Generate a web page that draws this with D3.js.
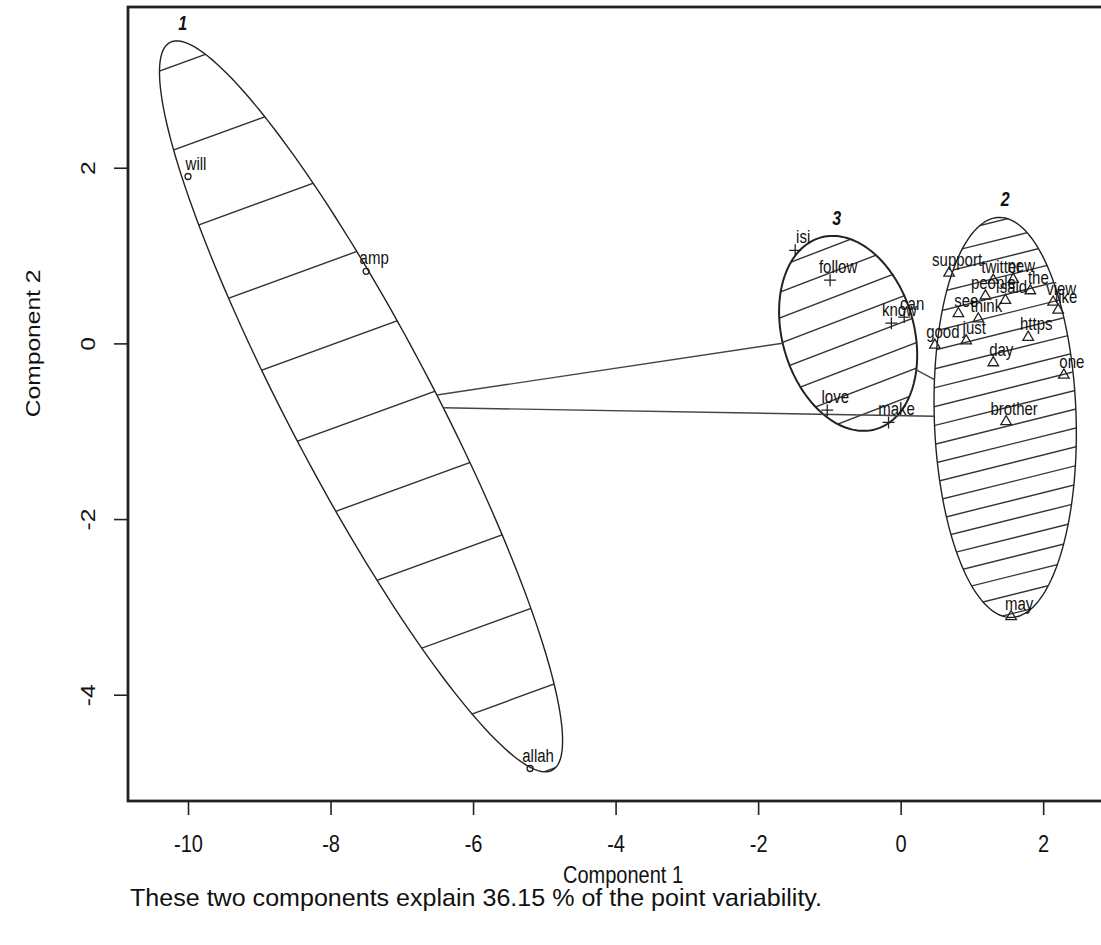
<!DOCTYPE html>
<html>
<head>
<meta charset="utf-8">
<script src="https://cdn.jsdelivr.net/npm/d3@7"></script>
<style>
  body { margin: 0; background: #fff; }
  text { font-family: "Liberation Sans", Arial, sans-serif; fill: #111; }
</style>
</head>
<body>
<div id="chart"></div>
<script>
/* clusplot of word scores - 3 clusters */

const width = 1101,
    height = 945,
    margin = ({ top: 7, right: -17, bottom: 144, left: 128 });

// word scores on the two components, and the cluster each word is in
const words = ["will", "amp", "allah",
  "support", "twitter", "new", "the", "people", "said", "view", "like", "see", "think",
  "good", "just", "https", "day", "one", "brother", "may",
  "isi", "follow", "know", "can", "love", "make"];
const comp1 = [-10.0, -7.50, -5.20,
  0.68, 1.30, 1.58, 1.82, 1.19, 1.47, 2.14, 2.21, 0.81, 1.09,
  0.48, 0.92, 1.79, 1.30, 2.29, 1.48, 1.55,
  -1.48, -0.99, -0.13, 0.05, -1.03, -0.17];
const comp2 = [1.90, 0.82, -4.84,
  0.80, 0.72, 0.73, 0.60, 0.54, 0.49, 0.47, 0.38, 0.34, 0.28,
  -0.02, 0.03, 0.07, -0.22, -0.36, -0.89, -3.11,
  1.06, 0.72, 0.23, 0.30, -0.76, -0.90];
const cluster = [1, 1, 1,
  2, 2, 2, 2, 2, 2, 2, 2, 2, 2,
  2, 2, 2, 2, 2, 2, 2,
  3, 3, 3, 3, 3, 3];

// cluster ellipses: centre and two conjugate half-axes (component units)
const ellId = [1, 2, 3];
const ellCx = [-7.572, 1.467, -0.737];
const ellCy = [-0.717, -0.843, 0.114];
const ellUx = [-2.681, -0.070, 0.390];
const ellUy = [4.144, 2.277, -1.090];
const ellVx = [0.901, 0.996, 0.887];
const ellVy = [0.384, -0.020, 0.209];

const xTicks = [-10, -8, -6, -4, -2, 0, 2];
const yTicks = [-4, -2, 0, 2];
const varExplained = 36.15;

// shading lines per cluster (angle in degrees, gap in px)
const hatch = { angle: [20, 14, 21], gap: [79, 18.3, 24], phase: [11, 9, 9] };
const stretch = 1.23; // the picture is taller than wide

const svg = d3.select("#chart")
    .append("svg")
    .attr("width", width)
    .attr("height", height);

let x = d3.scaleLinear()
    .domain([-10.842, 3.05])
    .range([margin.left, width - margin.right]);

let y = d3.scaleLinear()
    .domain([-5.21, 3.83])
    .range([height - margin.bottom, margin.top]);

// axes
let xAxis = svg.append("g")
    .attr("transform", `translate(0,${height - margin.bottom})`)
    .call(d3.axisBottom(x).tickValues(xTicks).tickFormat(d => String(d)).tickSize(14).tickSizeOuter(0));

let yAxis = svg.append("g")
    .attr("transform", `translate(${margin.left},0)`)
    .call(d3.axisLeft(y).tickValues(yTicks).tickFormat(d => String(d)).tickSize(14).tickSizeOuter(0));

[xAxis, yAxis].forEach(g => {
  g.select(".domain").remove();
  g.selectAll(".tick line").attr("stroke", "#222").attr("stroke-width", 1.6);
  g.selectAll(".tick text").attr("font-size", 20).attr("fill", "#111")
    .attr("font-family", "Liberation Sans, Arial, sans-serif");
});

xAxis.selectAll(".tick text")
    .attr("y", 0).attr("dy", "0.35em")
    .attr("transform", `translate(0,42) scale(1,${stretch})`);

yAxis.selectAll(".tick text")
    .attr("x", 0).attr("dy", "0.35em").attr("text-anchor", "middle")
    .attr("transform", `translate(-40,0) scale(1,${stretch}) rotate(-90)`);

// box
svg.append("rect")
    .attr("x", margin.left)
    .attr("y", margin.top)
    .attr("width", width - margin.right - margin.left)
    .attr("height", height - margin.bottom - margin.top)
    .attr("fill", "none")
    .attr("stroke", "#222")
    .attr("stroke-width", 2.8);

// axis titles
svg.append("text")
    .attr("text-anchor", "middle")
    .attr("dy", "0.35em")
    .attr("font-size", 20)
    .attr("transform", `translate(${(margin.left + width - margin.right) / 2},874) scale(1,${stretch})`)
    .text("Component 1");

svg.append("text")
    .attr("dy", "0.35em")
    .attr("font-size", 20)
    .attr("textLength", 692)
    .attr("lengthAdjust", "spacingAndGlyphs")
    .attr("transform", `translate(130,897) scale(1,${stretch})`)
    .text(`These two components explain ${varExplained} % of the point variability.`);

svg.append("text")
    .attr("text-anchor", "middle")
    .attr("dy", "0.35em")
    .attr("font-size", 20)
    .attr("transform", `translate(33,${y(0)}) scale(1,${stretch}) rotate(-90)`)
    .text("Component 2");

// ellipses in pixel space
const ells = ellId.map((id, i) => {
  const c = [x(ellCx[i]), y(ellCy[i])];
  const u = [x(ellCx[i] + ellUx[i]) - c[0], y(ellCy[i] + ellUy[i]) - c[1]];
  const v = [x(ellCx[i] + ellVx[i]) - c[0], y(ellCy[i] + ellVy[i]) - c[1]];
  const pts = d3.range(0, 181).map(k => {
    const t = 2 * Math.PI * k / 180;
    return [c[0] + u[0] * Math.cos(t) + v[0] * Math.sin(t), c[1] + u[1] * Math.cos(t) + v[1] * Math.sin(t)];
  });
  return { id, i, c, u, v, pts };
});

const line = d3.line();

svg.append("defs").selectAll("clipPath")
    .data(ells)
    .join("clipPath")
    .attr("id", d => "clip" + d.id)
    .append("path")
    .attr("d", d => line(d.pts) + "Z");

// shading
ells.forEach(e => {
  const a = hatch.angle[e.i] * Math.PI / 180;
  const dir = [Math.cos(a), -Math.sin(a)], nrm = [Math.sin(a), Math.cos(a)];
  const R = Math.hypot(...e.u) + Math.hypot(...e.v);
  const gap = hatch.gap[e.i];
  const offs = d3.range(hatch.phase[e.i] - Math.ceil(R / gap) * gap, R, gap);
  svg.append("g")
      .attr("clip-path", `url(#clip${e.id})`)
      .selectAll("line")
      .data(offs)
      .join("line")
      .attr("x1", o => e.c[0] + nrm[0] * o - dir[0] * R)
      .attr("y1", o => e.c[1] + nrm[1] * o - dir[1] * R)
      .attr("x2", o => e.c[0] + nrm[0] * o + dir[0] * R)
      .attr("y2", o => e.c[1] + nrm[1] * o + dir[1] * R)
      .attr("stroke", "#333")
      .attr("stroke-width", 1.4);
});

svg.append("g").selectAll("path")
    .data(ells)
    .join("path")
    .attr("d", d => line(d.pts) + "Z")
    .attr("fill", "none")
    .attr("stroke", "#222")
    .attr("stroke-width", d => d.id === 3 ? 2 : 1.4);

// lines between ellipse borders
function exitS(e, d) { // how far along d we leave ellipse e
  const det = e.u[0] * e.v[1] - e.v[0] * e.u[1];
  const a = (d[0] * e.v[1] - e.v[0] * d[1]) / det;
  const b = (e.u[0] * d[1] - d[0] * e.u[1]) / det;
  return 1 / Math.hypot(a, b);
}
const pairs = [[0, 2], [0, 1], [2, 1]];
pairs.forEach(([i, j]) => {
  const A = ells[i], B = ells[j];
  const d = [B.c[0] - A.c[0], B.c[1] - A.c[1]];
  const si = exitS(A, d), sj = exitS(B, [-d[0], -d[1]]);
  if (si + sj >= 1) return;
  svg.append("line")
      .attr("x1", A.c[0] + si * d[0]).attr("y1", A.c[1] + si * d[1])
      .attr("x2", B.c[0] - sj * d[0]).attr("y2", B.c[1] - sj * d[1])
      .attr("stroke", "#444")
      .attr("stroke-width", 1.4);
});

// cluster numbers on top of each ellipse
svg.append("g").selectAll("text")
    .data(ells)
    .join("text")
    .attr("text-anchor", "middle")
    .attr("font-size", 16)
    .attr("font-weight", "bold")
    .attr("font-style", "italic")
    .attr("transform", d => {
      const top = d3.least(d.pts, p => p[1]);
      return `translate(${top[0] + 5},${top[1] - 11}) scale(1,${stretch})`;
    })
    .text(d => d.id);

// points
const pts = words.map((w, k) => ({ w, px: x(comp1[k]), py: y(comp2[k]), cl: cluster[k] }));

let g = svg.append("g").attr("stroke", "#222").attr("fill", "none").attr("stroke-width", 1.3);

g.selectAll("circle")
    .data(pts.filter(d => d.cl === 1))
    .join("circle")
    .attr("cx", d => d.px)
    .attr("cy", d => d.py)
    .attr("r", 3);

g.selectAll("path.tri")
    .data(pts.filter(d => d.cl === 2))
    .join("path")
    .attr("class", "tri")
    .attr("transform", d => `translate(${d.px},${d.py})`)
    .attr("d", d3.symbol(d3.symbolTriangle, 48));

g.selectAll("path.plus")
    .data(pts.filter(d => d.cl === 3))
    .join("path")
    .attr("class", "plus")
    .attr("transform", d => `translate(${d.px},${d.py})`)
    .attr("d", "M-6,0H6M0,-6V6");

// word labels
svg.append("g").selectAll("text")
    .data(pts)
    .join("text")
    .attr("text-anchor", "middle")
    .attr("font-size", 15)
    .attr("fill", "#222")
    .attr("transform", d => `translate(${d.px + 8},${d.py - 7}) scale(1,${stretch})`)
    .text(d => d.w);
</script>
</body>
</html>
